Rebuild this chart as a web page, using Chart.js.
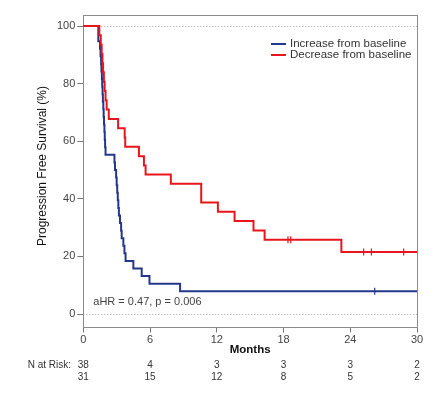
<!DOCTYPE html>
<html><head><meta charset="utf-8">
<script src="https://cdn.jsdelivr.net/npm/chart.js@4"></script>
<style>html,body{margin:0;padding:0;background:#fff;}</style>
</head><body>
<canvas id="c" width="440" height="393" style="width:440px;height:393px;display:block"></canvas>
<script>
const seriesNames = ['Increase from baseline', 'Decrease from baseline'];
const increaseMonths   = [0, 1.35, 1.5, 1.55, 1.6, 1.63, 1.67, 1.7, 1.73, 1.76, 1.8, 1.83, 1.86, 1.9, 1.93, 1.96, 2.0, 2.8, 2.85, 2.95, 3.0, 3.05, 3.1, 3.15, 3.2, 3.3, 3.4, 3.45, 3.6, 3.7, 3.8, 4.5, 5.25, 5.95, 8.7, 30];
const increaseSurvival = [100, 94.7, 92.1, 89.5, 86.8, 84.2, 81.6, 78.9, 76.3, 73.7, 71.1, 68.4, 65.8, 63.2, 60.5, 57.9, 55.3, 52.6, 50.0, 47.4, 44.7, 42.1, 39.5, 36.8, 34.2, 31.6, 28.9, 26.3, 23.7, 21.1, 18.4, 15.8, 13.2, 10.5, 7.9, 7.9];
const decreaseMonths   = [0, 1.44, 1.57, 1.65, 1.72, 1.78, 1.85, 1.92, 2.0, 2.1, 2.29, 3.13, 3.72, 3.77, 5.0, 5.45, 5.6, 7.87, 10.6, 12.1, 13.6, 15.3, 16.3, 23.2, 30];
const decreaseSurvival = [100, 96.8, 93.5, 90.3, 87.1, 83.9, 80.6, 77.4, 74.2, 71.0, 67.7, 64.5, 61.3, 58.1, 54.8, 51.6, 48.4, 45.2, 38.7, 35.5, 32.3, 29.0, 25.8, 21.5, 21.5];
const increaseCensorMonths   = [26.2];
const increaseCensorSurvival = [7.9];
const decreaseCensorMonths   = [18.4, 18.65, 25.2, 25.9, 28.8];
const decreaseCensorSurvival = [25.8, 25.8, 21.5, 21.5, 21.5];
const xTicks = [0, 6, 12, 18, 24, 30];
const yTicks = [0, 20, 40, 60, 80, 100];
const riskLabel = 'N at Risk:';
const increaseAtRisk = [38, 4, 3, 3, 3, 2];
const decreaseAtRisk = [31, 15, 12, 8, 5, 2];
const annotationText = 'aHR = 0.47, p = 0.006';
const xTitle = 'Months';
const yTitle = 'Progression Free Survival (%)';

const BLUE = '#23388a', RED = '#e8151d';
const FONT = '"Liberation Sans", Arial, sans-serif';
const zip = (xs, ys) => xs.map((x, i) => ({x: x, y: ys[i]}));

const extras = {
  id: 'extras',
  beforeDatasetsDraw(chart) {
    const {ctx, chartArea: a, scales: {y}} = chart;
    ctx.save();
    ctx.strokeStyle = '#a0a0a0'; ctx.lineWidth = 1; ctx.setLineDash([1, 2]);
    [0, 100].forEach(v => {
      const py = Math.round(y.getPixelForValue(v)) + 0.5;
      ctx.beginPath(); ctx.moveTo(a.left, py); ctx.lineTo(a.right, py); ctx.stroke();
    });
    ctx.setLineDash([]);
    ctx.strokeStyle = '#8c8c8c';
    ctx.strokeRect(Math.round(a.left) + 0.5, Math.round(a.top) + 0.5, Math.round(a.right - a.left), Math.round(a.bottom - a.top));
    ctx.restore();
  },
  afterDraw(chart) {
    const {ctx, chartArea: a, scales: {x}} = chart;
    ctx.save();
    // y title
    ctx.fillStyle = '#111';
    ctx.font = '12px ' + FONT;
    ctx.textAlign = 'center'; ctx.textBaseline = 'middle';
    ctx.translate(43, 166); ctx.rotate(-Math.PI / 2);
    ctx.fillText(yTitle, 0, 0);
    ctx.setTransform(1, 0, 0, 1, 0, 0);
    // legend
    const ds = chart.data.datasets;
    ctx.font = '11.5px ' + FONT; ctx.textAlign = 'left';
    [0, 1].forEach((i, k) => {
      const ly = 44 + k * 11;
      ctx.strokeStyle = ds[i].borderColor; ctx.lineWidth = 2;
      ctx.beginPath(); ctx.moveTo(271, ly); ctx.lineTo(286, ly); ctx.stroke();
      ctx.fillStyle = '#333';
      ctx.fillText(ds[i].label, 290, ly);
    });
    // annotation
    ctx.font = '11px ' + FONT; ctx.fillStyle = '#444';
    ctx.fillText(annotationText, a.left + 10, 302);
    // risk table
    ctx.font = '10px ' + FONT; ctx.fillStyle = '#333';
    ctx.textAlign = 'right';
    ctx.fillText(riskLabel, 71, 365);
    ctx.textAlign = 'center';
    xTicks.forEach((t, i) => {
      const px = x.getPixelForValue(t);
      ctx.fillText(String(increaseAtRisk[i]), px, 365);
      ctx.fillText(String(decreaseAtRisk[i]), px, 377);
    });
    ctx.restore();
  }
};

new Chart(document.getElementById('c'), {
  type: 'line',
  data: {
    datasets: [
      {label: seriesNames[0], data: zip(increaseMonths, increaseSurvival), borderColor: BLUE, backgroundColor: BLUE,
       stepped: 'before', borderWidth: 2, pointRadius: 0, fill: false, order: 3},
      {label: seriesNames[1], data: zip(decreaseMonths, decreaseSurvival), borderColor: RED, backgroundColor: RED,
       stepped: 'before', borderWidth: 2, pointRadius: 0, fill: false, order: 1},
      {label: 'censor-inc', data: zip(increaseCensorMonths, increaseCensorSurvival), borderColor: BLUE, showLine: false,
       pointStyle: 'line', rotation: 90, pointRadius: 3.5, pointBorderWidth: 1.2, order: 2},
      {label: 'censor-dec', data: zip(decreaseCensorMonths, decreaseCensorSurvival), borderColor: RED, showLine: false,
       pointStyle: 'line', rotation: 90, pointRadius: 3.5, pointBorderWidth: 1.2, order: 0}
    ]
  },
  options: {
    responsive: false, animation: false, devicePixelRatio: 1,
    layout: {padding: {top: 15, right: 23, left: 0, bottom: 0}},
    plugins: {legend: {display: false}, tooltip: {enabled: false}},
    scales: {
      x: {
        type: 'linear', min: 0, max: 30,
        afterBuildTicks: s => { s.ticks = xTicks.map(v => ({value: v})); },
        afterFit: s => { s.height = 66.5; },
        ticks: {font: {size: 11, family: FONT}, color: '#444', padding: 1, maxRotation: 0, autoSkip: false},
        grid: {drawOnChartArea: false, drawTicks: true, tickLength: 6, tickColor: '#777'},
        border: {display: false},
        title: {display: true, text: xTitle, color: '#111', font: {size: 11.5, weight: 'bold', family: FONT}, padding: {top: 0, bottom: 36.7}}
      },
      y: {
        min: -4.34, max: 103.82,
        afterBuildTicks: s => { s.ticks = yTicks.map(v => ({value: v})); },
        afterFit: s => { s.width = 83.3; },
        ticks: {font: {size: 11, family: FONT}, color: '#444', padding: 2},
        grid: {drawOnChartArea: false, drawTicks: true, tickLength: 6, tickColor: '#777'},
        border: {display: false}
      }
    }
  },
  plugins: [extras]
});
</script>
</body></html>
